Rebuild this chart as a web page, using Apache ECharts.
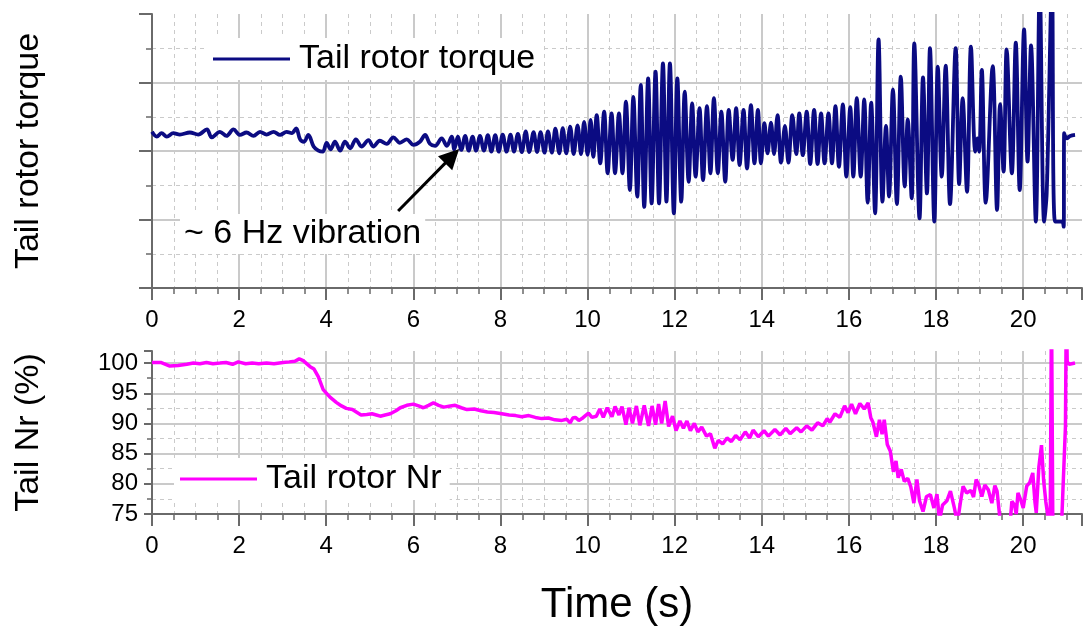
<!DOCTYPE html>
<html>
<head>
<meta charset="utf-8">
<script src="https://cdn.jsdelivr.net/npm/echarts@6/dist/echarts.min.js"></script>
<style>
  html, body { margin: 0; padding: 0; background: #ffffff; }
  #chart { width: 1083px; height: 628px; }
</style>
</head>
<body>
<div id="chart"></div>
<script>
// ---- Data: time (s) vs. tail rotor torque (arbitrary units, axis 0..8) ----
const torqueCalm = [
  [0.00,4.56],[0.11,4.42],[0.22,4.52],[0.34,4.42],[0.49,4.52],[0.64,4.48],[0.87,4.54],[1.06,4.48],
  [1.26,4.63],[1.37,4.40],[1.56,4.56],[1.71,4.44],[1.87,4.63],[2.02,4.47],[2.17,4.54],[2.33,4.44],
  [2.48,4.56],[2.63,4.48],[2.79,4.56],[2.94,4.47],[3.09,4.56],[3.21,4.52],[3.31,4.66],[3.40,4.34],
  [3.49,4.27],[3.59,4.47],[3.71,4.13],[3.82,4.01],[3.92,3.98],[4.01,4.24],[4.10,4.05],[4.20,4.27],
  [4.32,4.01],[4.43,4.27],[4.55,4.08],[4.68,4.34],[4.81,4.13],[4.97,4.32],[5.08,4.13],[5.23,4.30],
  [5.39,4.21],[5.54,4.40],[5.69,4.24],[5.85,4.34],[6.00,4.18],[6.15,4.27],[6.27,4.47],[6.38,4.21],
  [6.50,4.15],[6.65,4.37],[6.77,4.15],[6.88,4.42]
];
const torqueBuild = [
  [6.94,4.05],[7.02,4.42],[7.10,4.03],[7.19,4.44],[7.27,4.01],[7.36,4.42],[7.44,4.01],[7.53,4.44],
  [7.62,4.01],[7.71,4.46],[7.79,3.98],[7.88,4.46],[7.96,3.98],[8.05,4.48],[8.14,3.98],[8.23,4.48],
  [8.31,3.98],[8.40,4.50],[8.49,3.97],[8.58,4.57],[8.66,3.97],[8.76,4.55],[8.84,3.97],[8.92,4.55],
  [9.01,3.95],[9.09,4.57],[9.18,3.95],[9.26,4.65],[9.35,3.93],[9.43,4.67],[9.51,3.93],[9.60,4.71],
  [9.68,3.91],[9.77,4.75],[9.85,3.91],[9.92,4.85],[10.00,3.89],[10.07,4.91],[10.13,3.83]
];
const torqueBurst = [
  [10.21,5.05],[10.29,3.64],[10.38,5.15],[10.46,3.35],[10.55,5.10],[10.63,3.35],[10.72,5.10],[10.80,3.35],
  [10.88,5.44],[10.97,2.86],[11.05,5.58],[11.14,2.67],[11.22,5.93],[11.30,2.37],[11.39,6.12],[11.47,2.47],
  [11.56,6.32],[11.64,2.47],[11.73,6.56],[11.81,2.52],[11.89,6.56],[11.98,2.18],[12.06,6.12],[12.15,2.52],
  [12.23,5.73],[12.32,3.10],[12.40,5.39],[12.48,3.25],[12.57,5.25],[12.65,3.15],[12.74,5.31],[12.82,3.35],
  [12.90,5.54],[12.99,3.35],[13.07,5.15],[13.16,3.10],[13.24,5.20],[13.33,3.74],[13.41,5.25],[13.49,3.59],
  [13.58,5.20],[13.66,3.49],[13.75,5.34],[13.83,3.64],[13.91,5.20]
];
const torqueLate = [
  [13.98,3.64],[14.06,4.81],[14.13,3.93],[14.21,4.83],[14.28,3.91],[14.36,5.05],[14.44,3.66],[14.53,4.73],
  [14.61,3.66],[14.70,5.05],[14.79,3.91],[14.86,5.10],[14.94,3.88],[15.03,5.15],[15.11,3.62],[15.20,5.20],
  [15.28,3.62],[15.36,5.10],[15.44,3.64],[15.53,5.10],[15.61,3.64],[15.69,5.31],[15.77,3.54],[15.86,5.36],
  [15.94,3.25],[16.03,5.28],[16.10,3.25],[16.18,5.54],[16.27,3.25],[16.35,5.51],[16.43,2.49],[16.51,5.41],
  [16.60,2.18],[16.68,7.26],[16.77,2.52],[16.85,4.73],[16.92,2.67],[17.01,5.80],[17.10,2.45],[17.19,6.17],
  [17.28,2.96],[17.35,4.92],[17.44,2.62],[17.50,7.14],[17.62,2.03],[17.70,6.15],[17.79,2.76],[17.86,7.00],
  [17.96,1.94],[18.04,6.46],[18.13,3.25],[18.22,6.49],[18.32,2.45],[18.45,7.00],[18.53,3.03],[18.61,5.54],
  [18.71,2.81],[18.80,7.05],[18.90,3.98],[18.95,4.37],[18.99,3.98],[19.05,6.37],[19.14,2.49],[19.30,6.48],
  [19.40,2.28],[19.47,5.37],[19.55,3.40],[19.62,6.97],[19.74,3.35],[19.83,7.16],[19.92,2.86],[20.02,7.55],
  [20.10,3.69],[20.18,7.08],[20.29,1.94],[20.38,8.80],[20.48,1.94],[20.54,2.78],[20.66,8.80],[20.73,1.94],
  [20.89,1.94],[20.93,1.79],[20.94,4.52],[21.00,4.37],[21.08,4.44],[21.19,4.47]
];

// ---- Data: time (s) vs. tail rotor speed Nr (%) ----
const nrPercent = [
  [0.00,100.1],[0.20,100.1],[0.41,99.5],[0.60,99.6],[0.80,99.8],[0.95,100.0],[1.10,99.9],[1.25,100.1],
  [1.40,99.9],[1.56,100.0],[1.70,100.1],[1.85,99.8],[1.98,100.2],[2.15,99.9],[2.30,100.0],[2.45,99.9],
  [2.63,100.0],[2.80,99.9],[3.01,100.1],[3.15,100.2],[3.28,100.3],[3.38,100.7],[3.47,100.4],[3.55,99.9],
  [3.63,99.4],[3.72,99.0],[3.82,97.7],[3.93,95.6],[4.08,94.4],[4.23,93.5],[4.35,92.9],[4.46,92.5],
  [4.60,92.3],[4.69,91.9],[4.80,91.4],[4.93,91.5],[5.05,91.6],[5.15,91.4],[5.24,91.2],[5.35,91.4],
  [5.47,91.6],[5.60,92.1],[5.70,92.6],[5.85,93.0],[6.00,93.2],[6.12,92.9],[6.23,92.6],[6.35,93.0],
  [6.46,93.4],[6.58,93.0],[6.70,92.7],[6.85,92.9],[6.96,93.0],[7.10,92.6],[7.23,92.3],[7.40,92.4],
  [7.55,92.1],[7.70,91.9],[7.85,91.8],[8.03,91.6],[8.20,91.4],[8.35,91.3],[8.49,91.1],[8.65,91.3],
  [8.80,91.0],[8.95,90.8],[9.10,90.9],[9.25,90.6],[9.41,90.5],[9.52,90.7],[9.60,90.1],[9.66,90.9],
  [9.72,91.0],[9.80,90.5],[9.87,90.8],[9.95,91.3],[10.02,91.7],[10.10,91.0],[10.20,91.2],[10.28,92.4],
  [10.36,91.0],[10.45,92.6],[10.56,91.1],[10.63,92.8],[10.72,91.4],[10.79,92.8],[10.88,89.8],[10.95,92.6],
  [11.03,90.0],[11.12,92.9],[11.20,89.7],[11.30,93.0],[11.40,89.6],[11.48,92.9],[11.56,89.8],[11.63,93.2],
  [11.70,90.0],[11.78,93.7],[11.86,89.5],[11.95,91.2],[12.03,88.8],[12.12,90.4],[12.20,89.2],[12.28,90.4],
  [12.36,88.8],[12.45,90.0],[12.53,88.6],[12.62,89.4],[12.73,87.9],[12.82,88.3],[12.92,85.9],[13.00,87.2],
  [13.10,86.6],[13.20,87.6],[13.30,87.0],[13.40,88.0],[13.50,87.3],[13.62,88.6],[13.72,87.6],[13.80,88.9],
  [13.92,87.8],[14.05,88.8],[14.15,87.9],[14.30,89.0],[14.42,88.1],[14.55,89.2],[14.65,88.3],[14.80,89.3],
  [14.90,88.6],[15.03,89.6],[15.15,88.9],[15.28,90.1],[15.40,89.6],[15.50,90.8],[15.56,90.2],[15.68,91.6],
  [15.79,91.0],[15.90,92.9],[15.98,91.8],[16.06,93.2],[16.15,91.6],[16.25,93.3],[16.35,92.4],[16.44,93.4],
  [16.50,91.0],[16.55,90.2],[16.63,87.8],[16.70,90.6],[16.76,88.2],[16.81,90.6],[16.88,86.5],[16.95,85.4],
  [17.02,82.0],[17.08,83.8],[17.13,81.0],[17.20,82.4],[17.27,80.4],[17.35,80.9],[17.42,79.5],[17.49,76.8],
  [17.56,80.7],[17.62,77.2],[17.70,75.4],[17.78,77.9],[17.87,78.2],[17.95,76.0],[18.02,78.3],[18.08,74.0],
  [18.15,76.5],[18.25,77.2],[18.33,78.8],[18.42,76.0],[18.49,73.5],[18.56,77.0],[18.62,79.6],[18.70,78.5],
  [18.80,78.9],[18.86,77.8],[18.92,80.7],[18.98,79.8],[19.05,77.9],[19.12,79.8],[19.20,79.0],[19.28,76.8],
  [19.35,79.7],[19.40,78.8],[19.47,74.0],[19.55,73.0],[19.70,73.5],[19.74,77.1],[19.80,76.5],[19.84,75.0],
  [19.88,78.5],[19.95,77.2],[20.00,76.0],[20.08,79.6],[20.15,80.2],[20.22,81.8],[20.27,77.0],[20.30,75.2],
  [20.36,82.8],[20.42,86.4],[20.47,80.5],[20.52,77.0],[20.58,74.0],[20.62,73.0],[20.65,110.0],[20.68,73.0],
  [20.88,73.0],[20.97,89.5],[20.99,110.0],[21.01,100.2],[21.06,99.8],[21.19,100.0]
];

// Arrow pointing at the onset of the oscillation (time, torque)
const arrowFrom = [5.65, 2.25];
const arrowTo = [6.89, 3.85];

const TIME_MIN = 0, TIME_MAX = 21.35, TIME_STEP = 2;

const torque = [].concat(torqueCalm, torqueBuild, torqueBurst, torqueLate);

const FONT = '"Liberation Sans", Arial, sans-serif';
const AXIS_COLOR = '#6a6a6a';
const GRID_COLOR = '#cacaca';
const TORQUE_COLOR = '#0b0b82';
const NR_COLOR = '#ff00ff';

function timeAxis(gridIndex, title) {
  return {
    type: 'value', gridIndex: gridIndex,
    min: TIME_MIN, max: TIME_MAX, interval: TIME_STEP,
    axisLine: { show: true, onZero: false, lineStyle: { color: AXIS_COLOR, width: 2 } },
    axisTick: { show: true, length: 12, lineStyle: { color: AXIS_COLOR, width: 2 } },
    minorTick: { show: true, splitNumber: 4, length: 6, lineStyle: { color: AXIS_COLOR, width: 1.5 } },
    splitLine: { show: true, showMinLine: false, showMaxLine: false, lineStyle: { color: GRID_COLOR, width: 2 } },
    minorSplitLine: { show: true, lineStyle: { color: GRID_COLOR, width: 1, type: [4, 4] } },
    axisLabel: { show: true, margin: 20, fontSize: 24, color: '#000', fontFamily: FONT, showMaxLabel: false },
    name: title, nameLocation: 'middle', nameGap: 70,
    nameTextStyle: { fontSize: 42, color: '#000', fontFamily: FONT }
  };
}

function legendFor(name, left, top) {
  return {
    data: [name], left: left, top: top, selectedMode: false,
    icon: 'rect', itemWidth: 77, itemHeight: 3,
    padding: [4, 8, 4, 6], backgroundColor: '#ffffff',
    textStyle: { fontSize: 34, color: '#000', fontFamily: FONT, padding: [0, 0, 0, 4] }
  };
}

const chart = echarts.init(document.getElementById('chart'), null, { renderer: 'canvas' });

chart.setOption({
  animation: false,
  backgroundColor: '#ffffff',
  grid: [
    { left: 152, top: 14, width: 930, height: 274 },
    { left: 152, top: 351, width: 930, height: 163 }
  ],
  xAxis: [timeAxis(0, ''), timeAxis(1, 'Time (s)')],
  yAxis: [
    {
      type: 'value', gridIndex: 0, min: 0, max: 8, interval: 2,
      axisLine: { show: true, lineStyle: { color: AXIS_COLOR, width: 2 } },
      axisTick: { show: true, length: 13, lineStyle: { color: AXIS_COLOR, width: 2 } },
      minorTick: { show: true, splitNumber: 2, length: 6, lineStyle: { color: AXIS_COLOR, width: 1.5 } },
      splitLine: { show: true, showMinLine: false, showMaxLine: false, lineStyle: { color: GRID_COLOR, width: 2 } },
      minorSplitLine: { show: true, lineStyle: { color: GRID_COLOR, width: 1, type: [4, 4] } },
      axisLabel: { show: false },
      name: 'Tail rotor torque', nameLocation: 'middle', nameGap: 106, nameRotate: 90,
      nameTextStyle: { fontSize: 34, color: '#000', fontFamily: FONT }
    },
    {
      type: 'value', gridIndex: 1, min: 75, max: 102, interval: 5,
      axisLine: { show: true, lineStyle: { color: AXIS_COLOR, width: 2 } },
      axisTick: { show: true, length: 8, lineStyle: { color: AXIS_COLOR, width: 2 } },
      minorTick: { show: true, splitNumber: 2, length: 5, lineStyle: { color: AXIS_COLOR, width: 1.5 } },
      splitLine: { show: true, showMinLine: false, showMaxLine: false, lineStyle: { color: GRID_COLOR, width: 2 } },
      minorSplitLine: { show: true, lineStyle: { color: GRID_COLOR, width: 1, type: [4, 4] } },
      axisLabel: { show: true, margin: 14, fontSize: 24, color: '#000', fontFamily: FONT, showMaxLabel: false },
      name: 'Tail Nr (%)', nameLocation: 'middle', nameGap: 106, nameRotate: 90,
      nameTextStyle: { fontSize: 34, color: '#000', fontFamily: FONT }
    }
  ],
  legend: [
    legendFor('Tail rotor torque', 207, 38),
    legendFor('Tail rotor Nr', 174, 458)
  ],
  graphic: [
    {
      type: 'text', x: 180, y: 234, z: 20,
      style: {
        text: '~ 6 Hz vibration', fontSize: 34, fontFamily: FONT, fill: '#000',
        verticalAlign: 'middle', align: 'left', backgroundColor: '#ffffff', padding: [3, 4]
      }
    }
  ],
  series: [
    {
      name: 'Tail rotor torque', type: 'line', xAxisIndex: 0, yAxisIndex: 0,
      data: torque, showSymbol: false, symbol: 'none', smooth: 0.35, clip: true,
      lineStyle: { color: TORQUE_COLOR, width: 3.8 }, itemStyle: { color: TORQUE_COLOR },
      markLine: {
        silent: true, symbol: ['none', 'triangle'], symbolSize: 20,
        label: { show: false },
        lineStyle: { color: '#000', width: 3, type: 'solid' },
        itemStyle: { color: '#000' },
        data: [[{ coord: arrowFrom }, { coord: arrowTo }]]
      }
    },
    {
      name: 'Tail rotor Nr', type: 'line', xAxisIndex: 1, yAxisIndex: 1,
      data: nrPercent, showSymbol: false, symbol: 'none', clip: true,
      lineStyle: { color: NR_COLOR, width: 3.5 }, itemStyle: { color: NR_COLOR }
    }
  ]
});
</script>
</body>
</html>
